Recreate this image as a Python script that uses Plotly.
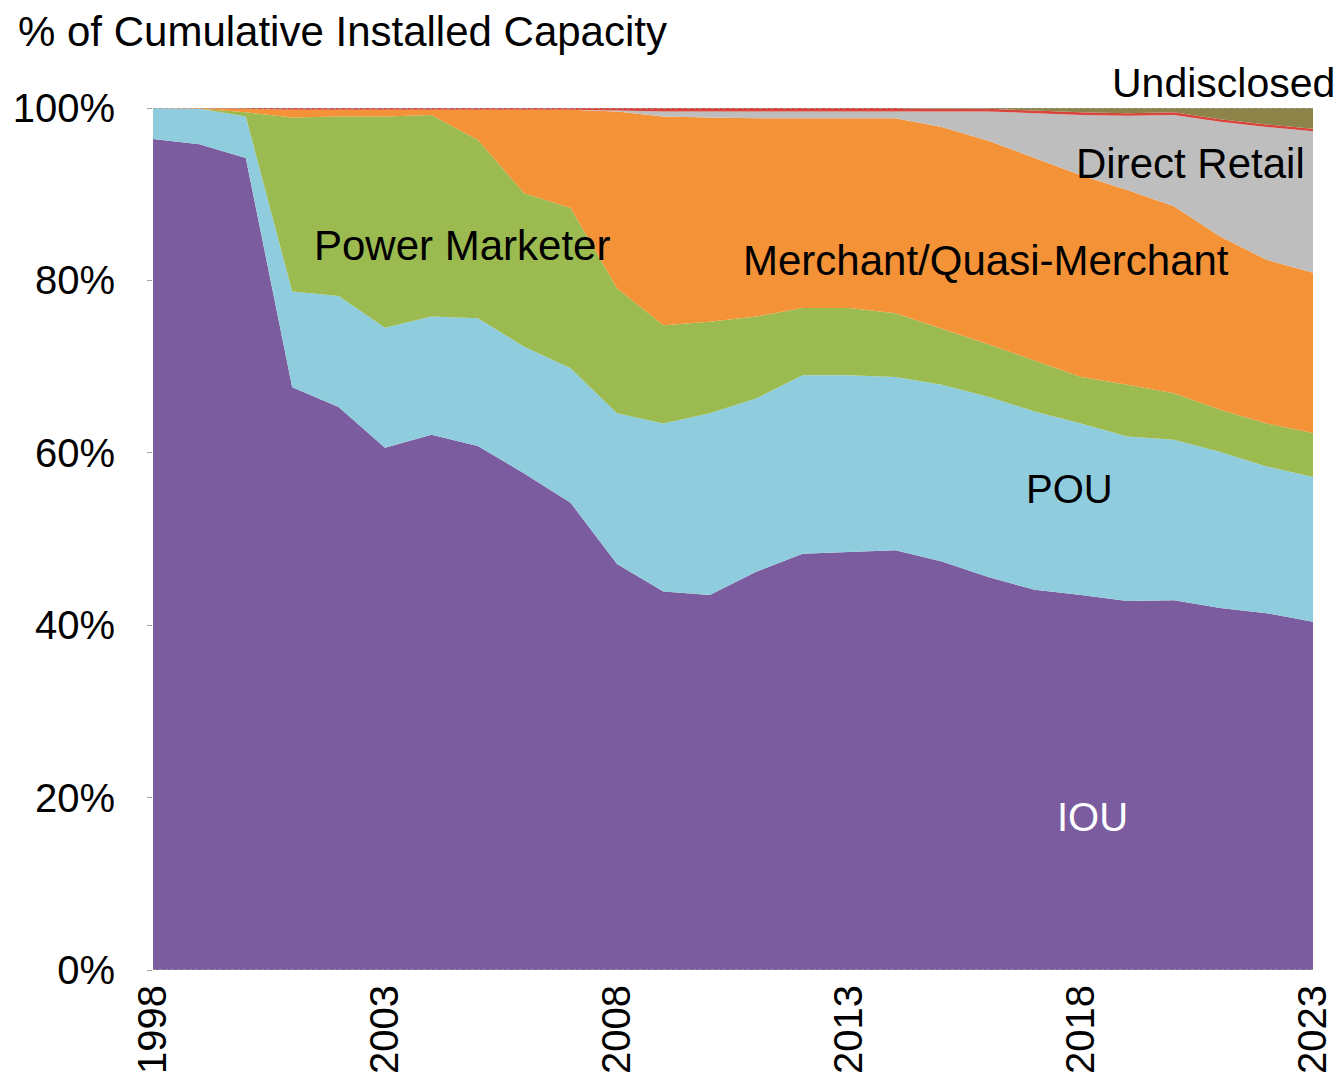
import plotly.graph_objects as go

years = list(range(1998, 2024))

# share of cumulative installed capacity, %
iou = [96.4, 95.8, 94.2, 67.6, 65.3, 60.6, 62.1, 60.8, 57.6, 54.2, 47.1, 43.9, 43.5,
       46.2, 48.3, 48.5, 48.7, 47.4, 45.6, 44.1, 43.5, 42.8, 42.9, 42.0, 41.4, 40.4]
pou = [3.6, 4.1, 4.8, 11.1, 12.9, 13.9, 13.7, 14.8, 14.7, 15.6, 17.5, 19.5, 21.1,
       20.1, 20.7, 20.5, 20.1, 20.5, 20.9, 20.7, 19.9, 19.1, 18.6, 18.1, 17.0, 16.8]
power_marketer = [0.0, 0.0, 0.5, 20.2, 20.8, 24.5, 23.4, 20.7, 17.8, 18.6, 14.5, 11.4, 10.6,
                  9.5, 7.8, 7.8, 7.4, 6.5, 6.1, 5.9, 5.4, 6.0, 5.4, 4.9, 5.0, 5.1]
merchant = [0.0, 0.1, 0.4, 0.9, 0.8, 0.8, 0.6, 3.5, 9.7, 11.4, 20.5, 24.2, 23.7,
            23.0, 22.0, 22.0, 22.6, 23.4, 23.6, 23.5, 23.4, 22.6, 21.7, 20.1, 19.0, 18.6]
direct_retail = [0.0, 0.0, 0.0, 0.0, 0.0, 0.0, 0.0, 0.0, 0.0, 0.0, 0.1, 0.6, 0.7,
                 0.8, 0.8, 0.8, 0.8, 1.8, 3.4, 5.2, 7.0, 8.6, 10.6, 13.3, 15.4, 16.4]
other = [0.0, 0.0, 0.1, 0.2, 0.2, 0.2, 0.2, 0.2, 0.2, 0.2, 0.3, 0.4, 0.4,
         0.4, 0.4, 0.4, 0.4, 0.3, 0.3, 0.3, 0.3, 0.3, 0.3, 0.3, 0.3, 0.3]
undisclosed = [0.0, 0.0, 0.0, 0.0, 0.0, 0.0, 0.0, 0.0, 0.0, 0.0, 0.0, 0.0, 0.0,
               0.0, 0.0, 0.0, 0.0, 0.1, 0.1, 0.3, 0.5, 0.6, 0.5, 1.3, 1.9, 2.4]

series = [
    ("IOU", iou, "#7B5C9E"),
    ("POU", pou, "#8FCCDD"),
    ("Power Marketer", power_marketer, "#9BBB50"),
    ("Merchant/Quasi-Merchant", merchant, "#F39237"),
    ("Direct Retail", direct_retail, "#BEBEBE"),
    ("Other", other, "#D9443C"),
    ("Undisclosed", undisclosed, "#8C8448"),
]

FONT = "Liberation Sans, Arial, sans-serif"

fig = go.Figure()
for name, vals, color in series:
    fig.add_trace(go.Scatter(
        x=years, y=vals, name=name, mode="lines",
        stackgroup="one", groupnorm="percent",
        line=dict(width=0, color=color), fillcolor=color,
    ))

# in-chart labels, as in the reference
labels = [
    ("Power Marketer", 2004.65, 84.0, "black", 42),
    ("Merchant/Quasi-Merchant", 2015.95, 82.3, "black", 42),
    ("Direct Retail", 2020.37, 93.6, "black", 42),
    ("POU", 2017.76, 55.8, "black", 40),
    ("IOU", 2018.25, 17.8, "white", 40),
]
for text, x, y, color, size in labels:
    fig.add_annotation(x=x, y=y, text=text, showarrow=False,
                       font=dict(size=size, color=color, family=FONT))

fig.add_annotation(xref="paper", yref="paper", x=1.0207, y=1.0, yshift=25, text="Undisclosed",
                   showarrow=False, xanchor="right", yanchor="middle",
                   font=dict(size=41, color="black", family=FONT))
fig.add_annotation(xref="paper", yref="paper", x=0, xshift=-137, y=1.0, yshift=77,
                   text="% of Cumulative Installed Capacity", showarrow=False,
                   xanchor="left", yanchor="middle",
                   font=dict(size=42, color="black", family=FONT))

# dashed borders at 0% and 100%
for yv in (0, 100):
    fig.add_shape(type="line", xref="paper", yref="y", x0=0, x1=1, y0=yv, y1=yv,
                  line=dict(color="#A0A0A0", width=1.5, dash="dot"), layer="above")

# page body adds an 8px offset, so the figure is 8px smaller on each side
fig.update_layout(
    width=1336, height=1072,
    margin=dict(l=145, r=31, t=100, b=110, autoexpand=False),
    paper_bgcolor="white", plot_bgcolor="white",
    showlegend=False,
    font=dict(family=FONT, size=40, color="black"),
)
fig.update_xaxes(
    range=[1998, 2023], tickvals=[1998, 2003, 2008, 2013, 2018, 2023],
    tickangle=-90, showgrid=False, zeroline=False, showline=False, automargin=False,
    ticks="", ticklabelstandoff=6, tickfont=dict(size=40, family=FONT),
)
fig.update_yaxes(
    range=[0, 100], dtick=20, ticksuffix="%", showgrid=False, zeroline=False,
    showline=False, automargin=False, ticks="outside", ticklen=5, tickcolor="#A0A0A0",
    ticklabelstandoff=24, tickfont=dict(size=40, family=FONT),
)

fig.write_html("out.html")
